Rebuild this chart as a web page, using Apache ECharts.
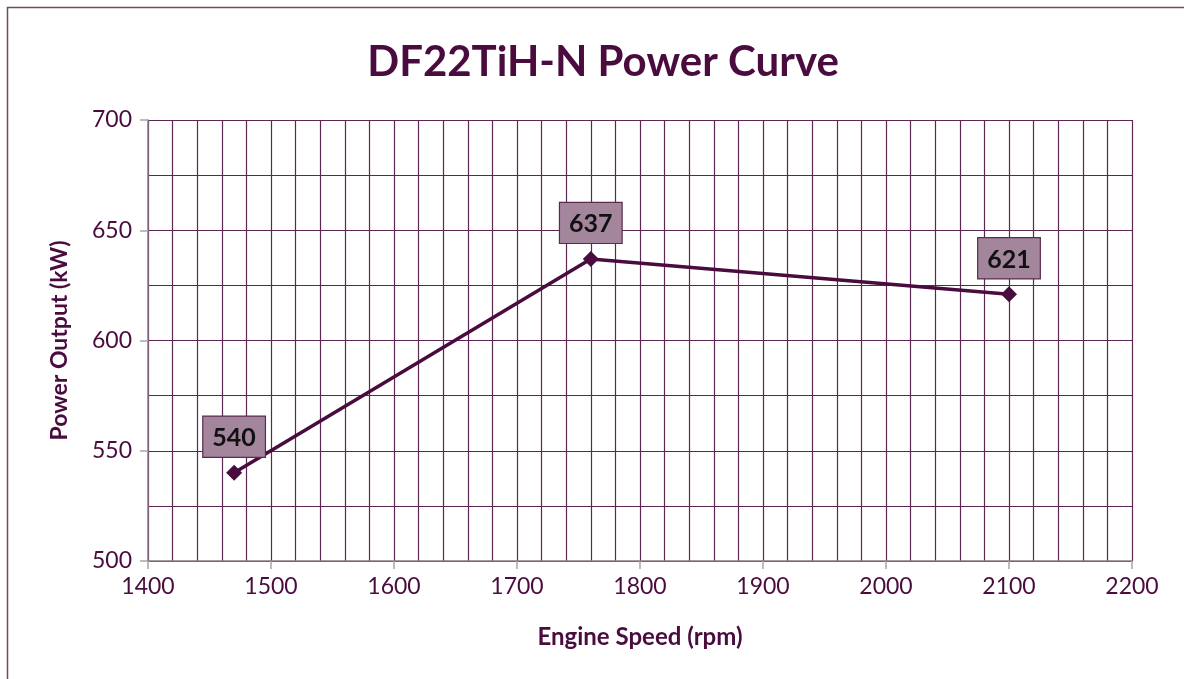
<!DOCTYPE html>
<html>
  <head>
    <meta charset="UTF-8" />
    <title>DF22TiH-N Power Curve</title>
    <script src="https://cdn.jsdelivr.net/npm/echarts@6/dist/echarts.min.js"></script>
    <style>
      html, body { margin: 0; padding: 0; background: #fff; }
    </style>
  </head>
  <body>
    <div id="powerChart" style="width: 1184px; height: 679px"></div>
  </body>
  <script>
    // engine speed (rpm) and power output (kW)
    const engineSpeed = [1470, 1760, 2100];
    const powerOutput = [540, 637, 621];

    const purple = '#4a0c3e';
    const gridColor = '#5c2752';

    let myChart = echarts.init(document.getElementById('powerChart'));

    myChart.setOption({
      animation: false,
      textStyle: { fontFamily: 'Lato' },
      title: {
        text: 'DF22TiH-N Power Curve',
        left: 598,
        top: 36,
        textAlign: 'center',
        textStyle: { fontSize: 42, fontWeight: 'bold', color: purple, fontFamily: 'Lato' }
      },
      graphic: [{
        type: 'rect',
        shape: { x: 7.5, y: 7.5, width: 1300, height: 800 },
        style: { fill: 'none', stroke: '#6e4a68', lineWidth: 1.5 },
        silent: true
      }],
      grid: { left: 148, top: 120, width: 984, height: 441 },
      xAxis: {
        type: 'value',
        min: 1400,
        max: 2200,
        interval: 100,
        name: 'Engine Speed (rpm)',
        nameLocation: 'middle',
        nameGap: 64,
        nameTextStyle: { fontSize: 24, fontWeight: 'bold', color: purple },
        axisLine: { show: true, lineStyle: { color: '#8a7a88', width: 1.5 } },
        axisTick: { show: true, length: 8, lineStyle: { color: '#a6a6a6', width: 1.5 } },
        axisLabel: { fontSize: 23, color: purple, margin: 14, formatter: v => String(v) },
        splitLine: { show: true, lineStyle: { color: gridColor, width: 1.2 } },
        minorTick: { show: false, splitNumber: 5 },
        minorSplitLine: { show: true, lineStyle: { color: gridColor, width: 1.2 } }
      },
      yAxis: {
        type: 'value',
        min: 500,
        max: 700,
        interval: 50,
        name: 'Power Output (kW)',
        nameLocation: 'middle',
        nameGap: 77,
        nameTextStyle: { fontSize: 23, fontWeight: 'bold', color: purple },
        axisLine: { show: true, lineStyle: { color: '#8a7a88', width: 1.5 } },
        axisTick: { show: true, length: 8, lineStyle: { color: '#a6a6a6', width: 1.5 } },
        axisLabel: { fontSize: 23, color: purple, margin: 16 },
        splitLine: { show: true, lineStyle: { color: gridColor, width: 1.2 } },
        minorTick: { show: false, splitNumber: 2 },
        minorSplitLine: { show: true, lineStyle: { color: gridColor, width: 1.2 } }
      },
      series: [{
        type: 'line',
        data: engineSpeed.map((s, i) => [s, powerOutput[i]]),
        symbol: 'diamond',
        symbolSize: 16,
        itemStyle: { color: purple },
        lineStyle: { color: purple, width: 3.5 },
        label: {
          show: true,
          position: 'top',
          distance: 8,
          formatter: p => p.value[1],
          fontSize: 25,
          fontWeight: 'bold',
          color: '#111111',
          backgroundColor: '#a3859c',
          borderColor: '#5a2a50',
          borderWidth: 1.2,
          padding: [9, 9, 6, 9]
        }
      }]
    });
  </script>
</html>
